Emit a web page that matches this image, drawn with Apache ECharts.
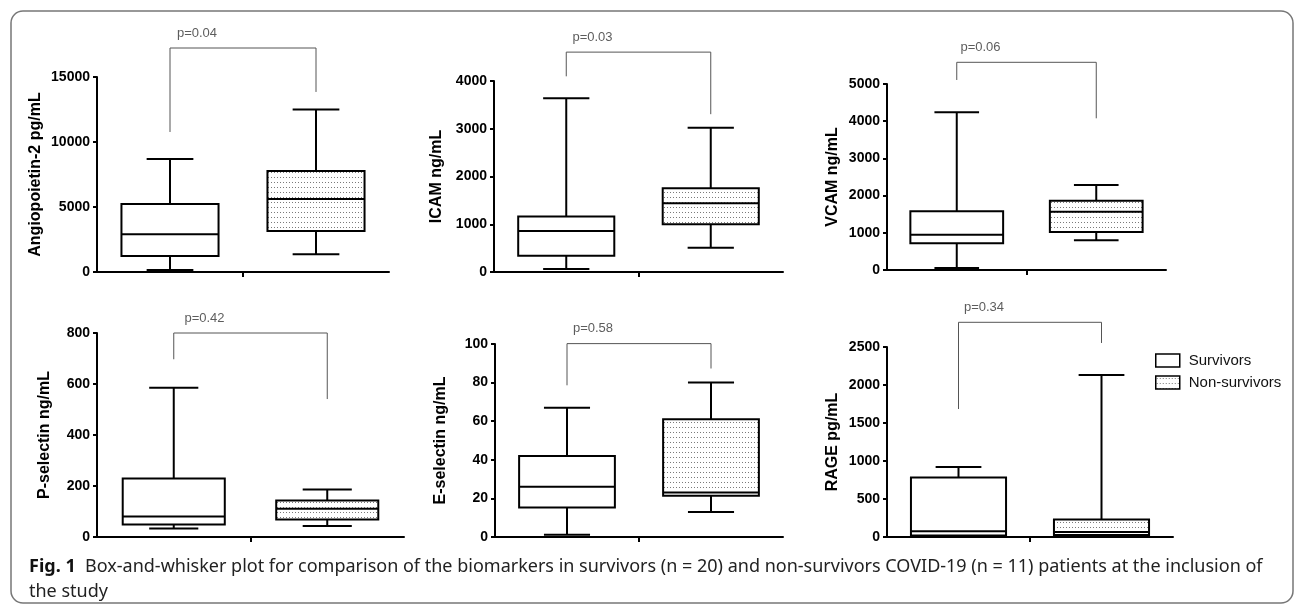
<!DOCTYPE html>
<html>
<head>
<meta charset="utf-8">
<script src="https://cdn.jsdelivr.net/npm/echarts@6/dist/echarts.min.js"></script>
<style>
html,body{margin:0;padding:0;background:#fff;}
#chart{width:1295px;height:609px;}
</style>
</head>
<body>
<div id="chart"></div>
<script>
// ---------- data ----------
const groups = ['Survivors', 'Non-survivors'];
const axisTitles = ['Angiopoietin-2 pg/mL', 'ICAM ng/mL', 'VCAM ng/mL', 'P-selectin ng/mL', 'E-selectin ng/mL', 'RAGE pg/mL'];
const yMax = [15000, 4000, 5000, 800, 100, 2500];
const yStep = [5000, 1000, 1000, 200, 20, 500];
// [min, Q1, median, Q3, max]
const ang2Surv = [150, 1230, 2900, 5230, 8700];
const ang2Non  = [1360, 3150, 5620, 7770, 12500];
const icamSurv = [63, 340, 860, 1160, 3640];
const icamNon  = [507, 1002, 1440, 1754, 3019];
const vcamSurv = [54, 717, 949, 1578, 4240];
const vcamNon  = [798, 1021, 1567, 1863, 2285];
const pselSurv = [33, 49, 80, 229, 585];
const pselNon  = [43, 69, 111, 143, 186];
const eselSurv = [1.2, 15.3, 26, 42, 67];
const eselNon  = [13, 21.4, 23, 61, 80];
const rageSurv = [5, 20, 75, 782, 921];
const rageNon  = [5, 26, 66, 229, 2130];
const pValues = ['p=0.04', 'p=0.03', 'p=0.06', 'p=0.42', 'p=0.58', 'p=0.34'];
// bracket leg ends and top, in data units
const bracketLeft  = [10770, 4098, 5108, 697, 78.6, 1684];
const bracketTop   = [17230, 4605, 5583, 800, 100.2, 2825];
const bracketRight = [13850, 3305, 4078, 541, 87.3, 2553];
const captionLabel = 'Fig. 1';
const caption1 = '  Box-and-whisker plot for comparison of the biomarkers in survivors (n = 20) and non-survivors COVID-19 (n = 11) patients at the inclusion of';
const caption2 = 'the study';

const survData = [ang2Surv, icamSurv, vcamSurv, pselSurv, eselSurv, rageSurv];
const nonData  = [ang2Non, icamNon, vcamNon, pselNon, eselNon, rageNon];

// ---------- layout / style ----------
const FONT = "'Liberation Sans', Arial, Helvetica, sans-serif";
const CAPFONT = "'Noto Sans', 'Open Sans', sans-serif";
const grids = [
  {left: 97,  top: 77,  width: 292, height: 195},
  {left: 494, top: 81,  width: 289, height: 191},
  {left: 887, top: 84,  width: 279, height: 186},
  {left: 97,  top: 333, width: 307, height: 204},
  {left: 495, top: 344, width: 288, height: 193},
  {left: 887, top: 347, width: 286, height: 190}
];
const nameGaps = [53, 49, 46, 44, 46, 46];
const BOX_W = 0.665, CAP_W = 0.32;

function dotPattern() {
  const c = document.createElement('canvas');
  c.width = 3; c.height = 5;
  const g = c.getContext('2d');
  g.fillStyle = '#ffffff'; g.fillRect(0, 0, 3, 5);
  g.fillStyle = '#7a7a7a'; g.fillRect(1, 2, 1, 1);
  return c;
}
const DOTS = {image: dotPattern(), repeat: 'repeat'};

function makeRender(fill) {
  return function (params, api) {
    const x = api.value(0);
    const p = [1, 2, 3, 4, 5].map(i => api.coord([x, api.value(i)]));
    const cx = p[0][0];
    const hw = api.size([BOX_W, 0])[0] / 2;
    const cw = api.size([CAP_W, 0])[0] / 2;
    const ls = () => ({stroke: '#000', lineWidth: 2});
    return {type: 'group', children: [
      {type: 'line', shape: {x1: cx, y1: p[0][1], x2: cx, y2: p[1][1]}, style: ls()},
      {type: 'line', shape: {x1: cx, y1: p[3][1], x2: cx, y2: p[4][1]}, style: ls()},
      {type: 'line', shape: {x1: cx - cw, y1: p[0][1], x2: cx + cw, y2: p[0][1]}, style: ls()},
      {type: 'line', shape: {x1: cx - cw, y1: p[4][1], x2: cx + cw, y2: p[4][1]}, style: ls()},
      {type: 'rect', shape: {x: cx - hw, y: p[3][1], width: 2 * hw, height: p[1][1] - p[3][1]},
        style: {fill: fill, stroke: '#000', lineWidth: 2}},
      {type: 'line', shape: {x1: cx - hw, y1: p[2][1], x2: cx + hw, y2: p[2][1]}, style: ls()}
    ]};
  };
}

const option = {
  animation: false,
  backgroundColor: '#fff',
  grid: grids.map(g => Object.assign({containLabel: false}, g)),
  xAxis: grids.map((g, i) => ({
    type: 'value', gridIndex: i, min: 0, max: 2,
    axisLine: {show: true, lineStyle: {color: '#000', width: 2}},
    axisTick: {show: true, customValues: [1], length: 5, lineStyle: {color: '#000', width: 2}},
    axisLabel: {show: false},
    splitLine: {show: false}
  })),
  yAxis: grids.map((g, i) => ({
    type: 'value', gridIndex: i, min: 0, max: yMax[i], interval: yStep[i],
    name: axisTitles[i], nameLocation: 'middle', nameRotate: 90, nameGap: nameGaps[i],
    nameTextStyle: {fontFamily: FONT, fontWeight: 'bold', fontSize: 16, color: '#000'},
    axisLine: {show: true, lineStyle: {color: '#000', width: 2}},
    axisTick: {show: true, length: 4, lineStyle: {color: '#000', width: 2}},
    axisLabel: {fontFamily: FONT, fontWeight: 'bold', fontSize: 14, color: '#000', margin: 7,
      formatter: v => String(v)},
    splitLine: {show: false}
  })),
  legend: {
    orient: 'vertical', left: 1155, top: 353, padding: 0,
    itemWidth: 24, itemHeight: 13, itemGap: 7,
    textStyle: {fontFamily: FONT, fontSize: 15, color: '#111', padding: [0, 0, 0, 4]},
    selectedMode: false,
    data: [
      {name: groups[0], icon: 'rect', itemStyle: {color: '#fff', borderColor: '#000', borderWidth: 1.5}},
      {name: groups[1], icon: 'rect', itemStyle: {color: DOTS, borderColor: '#000', borderWidth: 1.5}}
    ]
  },
  title: {
    left: 24, top: 549,
    text: '{b|' + captionLabel + '}' + caption1 + '\n' + caption2,
    textStyle: {
      fontFamily: CAPFONT, fontSize: 18, fontWeight: 'normal',
      color: '#222', lineHeight: 25,
      rich: {b: {fontFamily: CAPFONT, fontSize: 18, fontWeight: 'bold', color: '#111', lineHeight: 25}}
    }
  },
  graphic: [{
    type: 'rect', silent: true, z: -1,
    shape: {x: 11, y: 11, width: 1282, height: 592, r: 12},
    style: {fill: 'none', stroke: '#777', lineWidth: 1.5}
  }],
  series: []
};

grids.forEach((g, i) => {
  option.series.push({
    type: 'line', name: 'bracket' + i, xAxisIndex: i, yAxisIndex: i,
    data: [[0.5, bracketLeft[i]], [0.5, bracketTop[i]], [1.5, bracketTop[i]], [1.5, bracketRight[i]]],
    symbol: 'none', clip: false, silent: true, z: 1,
    lineStyle: {color: '#555', width: 1}
  });
  option.series.push({
    type: 'scatter', name: 'plabel' + i, xAxisIndex: i, yAxisIndex: i,
    data: [[1, bracketTop[i]]], symbolSize: 0, clip: false, silent: true,
    label: {show: true, position: 'inside', offset: [-46, -15], formatter: pValues[i],
      fontFamily: FONT, fontSize: 13, color: '#333'}
  });
  option.series.push({
    type: 'custom', name: groups[0], xAxisIndex: i, yAxisIndex: i, z: 3,
    renderItem: makeRender('#fff'),
    encode: {x: 0, y: [1, 2, 3, 4, 5]},
    data: [[0.5].concat(survData[i])]
  });
  option.series.push({
    type: 'custom', name: groups[1], xAxisIndex: i, yAxisIndex: i, z: 3,
    renderItem: makeRender(DOTS),
    encode: {x: 0, y: [1, 2, 3, 4, 5]},
    data: [[1.5].concat(nonData[i])]
  });
});

const chart = echarts.init(document.getElementById('chart'), null, {renderer: 'canvas'});
chart.setOption(option);
</script>
</body>
</html>
